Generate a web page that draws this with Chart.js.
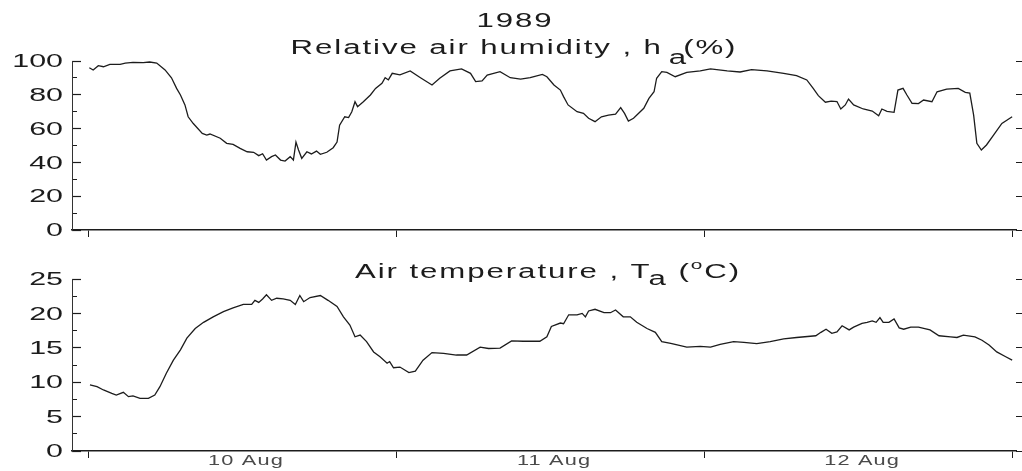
<!DOCTYPE html>
<html>
<head>
<meta charset="utf-8">
<title>1989 humidity and air temperature</title>
<script src="https://cdn.jsdelivr.net/npm/chart.js@4.4.0/dist/chart.umd.min.js"></script>
<style>
  html, body { margin: 0; padding: 0; background: #fff; }
  #wrap { position: relative; width: 1022px; height: 471px; }
  .panel { position: absolute; left: 0; width: 1022px; }
  #humPanel { top: 0; height: 240px; }
  #tempPanel { top: 240px; height: 231px; }
</style>
</head>
<body>
<div id="wrap">
  <div class="panel" id="humPanel"><canvas id="humChart"></canvas></div>
  <div class="panel" id="tempPanel"><canvas id="tempChart"></canvas></div>
</div>
<script>
// ------------------------------------------------------------
// Data — time in hours from 10 Aug 00:00
// ------------------------------------------------------------
const humHours = [
  0.1, 0.4, 0.8, 1.2, 1.7, 2.5, 2.9, 3.5, 4.3, 4.8, 5.35, 6.0, 6.5, 6.9, 7.2, 7.55, 7.8, 8.2, 8.9, 9.25,
  9.5, 10.3, 10.8, 11.3, 11.85, 12.4, 12.9, 13.3, 13.6, 13.9, 14.3, 14.6, 15.0, 15.35, 15.75, 16.0, 16.2, 16.4, 16.65, 17.05,
  17.4, 17.8, 18.1, 18.6, 19.1, 19.4, 19.6, 20.0, 20.3, 20.55, 20.8, 21.0, 21.45, 22.0, 22.4, 22.9, 23.15, 23.4, 23.7, 24.3,
  25.1, 25.9, 26.8, 27.4, 28.2, 29.1, 29.8, 30.2, 30.7, 31.1, 32.1, 32.9, 33.7, 34.45, 35.4, 35.75, 36.3, 36.8, 37.05, 37.4,
  38.1, 38.6, 39.0, 39.5, 40.0, 40.55, 41.1, 41.5, 41.8, 42.1, 42.5, 43.3, 43.7, 44.1, 44.3, 44.7, 45.1, 45.75, 46.65, 47.7,
  48.5, 49.8, 50.8, 51.7, 52.9, 54.2, 55.2, 56.0, 56.5, 56.9, 57.45, 57.9, 58.35, 58.65, 59.0, 59.25, 59.65, 60.4, 61.1, 61.6,
  61.85, 62.25, 62.8, 63.1, 63.5, 63.8, 64.2, 64.7, 65.1, 65.75, 66.15, 66.9, 67.8, 68.35, 68.7, 69.0, 69.25, 69.6, 70.0, 70.55,
  71.2, 72.0
];
const humValues = [
  96.0, 94.7, 97.2, 96.6, 98.0, 98.0, 98.8, 99.2, 99.0, 99.4, 98.8, 94.7, 90.1, 83.8, 79.9, 74.0, 67.0, 63.0, 57.2, 56.2,
  56.8, 54.3, 51.3, 50.7, 48.3, 46.3, 46.0, 44.0, 45.1, 41.4, 43.4, 44.4, 41.4, 40.8, 43.4, 41.4, 52.0, 47.3, 42.4, 46.3,
  45.0, 46.7, 44.8, 46.0, 48.7, 52.0, 62.0, 67.0, 66.5, 70.0, 75.9, 73.0, 75.9, 79.9, 83.8, 86.8, 90.1, 88.8, 92.7, 91.8,
  94.1, 90.1, 85.8, 89.8, 94.1, 95.3, 92.7, 87.8, 88.2, 91.7, 93.7, 90.1, 89.3, 90.1, 92.1, 90.7, 85.8, 82.8, 78.9, 74.0,
  70.0, 69.0, 66.1, 64.1, 67.0, 68.0, 68.5, 72.4, 69.0, 64.5, 66.1, 72.0, 77.9, 81.8, 89.8, 93.7, 93.3, 90.7, 93.3, 94.1,
  95.3, 94.1, 93.5, 94.9, 94.1, 92.7, 91.3, 88.8, 83.8, 79.5, 75.6, 76.3, 76.0, 71.6, 74.0, 77.5, 74.0, 71.6, 70.4, 67.6,
  71.6, 70.2, 69.6, 82.8, 83.8, 79.9, 75.0, 74.8, 76.9, 75.9, 81.8, 83.4, 83.8, 81.5, 81.0, 68.0, 51.3, 47.3, 50.3, 56.2,
  63.1, 67.0
];

const tempHours = [
  0.15, 0.7, 1.2, 1.85, 2.2, 2.75, 3.15, 3.5, 4.05, 4.7, 5.2, 5.6, 6.1, 6.65, 7.2, 7.7, 8.35, 9.0, 9.75, 10.55,
  11.3, 12.1, 12.75, 13.0, 13.3, 13.6, 13.9, 14.3, 14.7, 15.2, 15.75, 16.15, 16.5, 16.8, 17.3, 18.1, 18.7, 19.4, 19.9, 20.4,
  20.8, 21.2, 21.7, 22.25, 22.75, 23.3, 23.5, 23.8, 24.3, 25.0, 25.5, 26.1, 26.8, 27.7, 28.7, 29.5, 30.55, 31.2, 32.1, 33.0,
  33.9, 35.2, 35.75, 36.1, 36.8, 37.05, 37.45, 38.1, 38.5, 38.75, 39.0, 39.5, 40.2, 40.7, 41.1, 41.7, 42.25, 42.75, 43.55, 44.2,
  44.7, 45.4, 46.65, 47.7, 48.5, 49.25, 50.3, 51.1, 52.1, 53.15, 54.2, 55.2, 56.7, 57.1, 57.5, 57.95, 58.35, 58.75, 59.3, 59.65,
  60.3, 60.7, 61.1, 61.4, 61.7, 61.95, 62.4, 62.8, 63.2, 63.55, 64.1, 64.7, 65.6, 66.3, 67.2, 67.7, 68.2, 69.1, 69.65, 70.2,
  70.8, 71.5, 72.0
];
const tempValues = [
  9.6, 9.35, 8.87, 8.38, 8.14, 8.53, 7.9, 8.0, 7.66, 7.66, 8.14, 9.35, 11.3, 13.2, 14.7, 16.4, 17.8, 18.7, 19.5, 20.25,
  20.8, 21.3, 21.3, 21.9, 21.6, 22.1, 22.7, 21.9, 22.2, 22.1, 21.9, 21.3, 22.6, 21.7, 22.3, 22.6, 21.9, 21.0, 19.5, 18.3,
  16.6, 16.85, 15.9, 14.4, 13.7, 12.75, 13.0, 12.1, 12.2, 11.4, 11.6, 13.2, 14.3, 14.2, 13.95, 13.95, 15.1, 14.9, 14.95, 16.0,
  15.95, 15.95, 16.6, 18.1, 18.6, 18.5, 19.8, 19.8, 20.0, 19.5, 20.35, 20.6, 20.1, 20.1, 20.5, 19.5, 19.5, 18.7, 17.8, 17.25,
  15.9, 15.65, 15.1, 15.2, 15.1, 15.5, 15.9, 15.8, 15.6, 15.9, 16.3, 16.5, 16.75, 17.25, 17.7, 17.1, 17.3, 18.2, 17.6, 18.0,
  18.55, 18.7, 18.9, 18.7, 19.4, 18.7, 18.7, 19.2, 17.9, 17.7, 18.0, 18.0, 17.6, 16.75, 16.6, 16.5, 16.85, 16.6, 16.1, 15.4,
  14.4, 13.7, 13.2
];

// midnights carry a tick mark, noons carry the day label
const dayTicks = [0, 12, 24, 36, 48, 60, 72];
const dayLabels = ['', '10 Aug', '', '11 Aug', '', '12 Aug', ''];

const humMajor = [0, 20, 40, 60, 80, 100];
const humMinor = [0, 10, 20, 30, 40, 50, 60, 70, 80, 90, 100];
const tempMajor = [0, 5, 10, 15, 20, 25];
const tempMinor = [0, 2.5, 5, 7.5, 10, 12.5, 15, 17.5, 20, 22.5, 25];

// ------------------------------------------------------------
// Look
// ------------------------------------------------------------
const INK = '#1c1c1c';
const FONT = '"Liberation Sans", Arial, sans-serif';
const STRETCH = 1.6;       // the plotter font is much wider than Arial
const X_MIN = -1.25;
const X_MAX = 72.3;

// draws horizontally widened text, returns its drawn width
function wideText(ctx, text, x, y, o) {
  const sx = o.stretch || STRETCH;
  ctx.save();
  ctx.font = `${o.size}px ${FONT}`;
  ctx.letterSpacing = (o.spacing || 0) + 'px';
  ctx.textAlign = o.align || 'left';
  ctx.textBaseline = o.baseline || 'alphabetic';
  ctx.fillStyle = o.color || INK;
  ctx.translate(x, y);
  ctx.scale(sx, 1);
  ctx.fillText(text, 0, 0);
  const w = ctx.measureText(text).width * sx;
  ctx.restore();
  return w;
}

function measureWide(ctx, text, o) {
  ctx.save();
  ctx.font = `${o.size}px ${FONT}`;
  ctx.letterSpacing = (o.spacing || 0) + 'px';
  const w = ctx.measureText(text).width * (o.stretch || STRETCH);
  ctx.restore();
  return w;
}

// tick labels, day labels and the panel titles
const plotText = {
  id: 'plotText',
  afterDraw(chart, args, opts) {
    const ctx = chart.ctx;
    const y = chart.scales.y;
    y.ticks.forEach((t, i) => {
      wideText(ctx, String(t.value), opts.yLabelX, y.getPixelForTick(i) + 1, { size: 19, align: 'right', baseline: 'middle' });
    });

    if (opts.showDays) {
      const x = chart.scales.x;
      x.ticks.forEach((t, i) => {
        if (!dayLabels[i]) return;
        wideText(ctx, dayLabels[i], x.getPixelForTick(i) + 4, opts.dayY, {
          size: 15, stretch: 1.45, spacing: 0.8, align: 'center', baseline: 'middle', color: '#4a4a4a',
        });
      });
    }

    for (const line of opts.lines) {
      const parts = line.parts.map(p => {
        const o = { size: p.size || 19.5, spacing: 1.2 };
        return { ...p, o, w: measureWide(ctx, p.text, o) };
      });
      const total = parts.reduce((sum, p) => sum + (p.pad || 0) + p.w, 0);
      let cx = line.cx - total / 2;
      for (const p of parts) {
        cx += p.pad || 0;
        wideText(ctx, p.text, cx, line.y + (p.dy || 0), p.o);
        cx += p.w;
      }
    }
  },
};

function buildScales(major, minor, showDays, xHeight) {
  const lo = major[0];
  const hi = major[major.length - 1];
  const setTicks = list => s => { s.ticks = list.map(v => ({ value: v })); };
  return {
    x: {
      type: 'linear', min: X_MIN, max: X_MAX,
      afterBuildTicks: setTicks(dayTicks),
      afterFit: s => { s.height = xHeight; },
      border: { color: INK, width: 1.5 },
      grid: {
        drawOnChartArea: false, tickLength: 7, tickWidth: 1,
        tickColor: c => (c.tick && c.tick.value % 24 === 0 ? INK : 'rgba(0,0,0,0)'),
      },
      ticks: { display: false },
    },
    y: {
      position: 'left', weight: 1, min: lo, max: hi,
      afterBuildTicks: setTicks(major),
      afterFit: s => { s.width = 72; },
      border: { color: '#333', width: 1 },
      grid: { drawOnChartArea: false, tickLength: -9, tickColor: INK, tickWidth: 1.2 },
      ticks: { display: false },
    },
    yMinor: {
      position: 'left', weight: 0, min: lo, max: hi,
      afterBuildTicks: setTicks(minor),
      afterFit: s => { s.width = 0; },
      border: { display: false },
      grid: { drawOnChartArea: false, tickLength: -5, tickColor: INK, tickWidth: 1 },
      ticks: { display: false },
    },
    yRight: {
      position: 'right', min: lo, max: hi,
      afterBuildTicks: setTicks(major),
      afterFit: s => { s.width = 6; },
      border: { display: false },
      grid: { drawOnChartArea: false, tickLength: 6, tickColor: INK, tickWidth: 1 },
      ticks: { display: false },
    },
  };
}

function makeChart(canvasId, hours, values, major, minor, opts) {
  return new Chart(document.getElementById(canvasId), {
    type: 'line',
    data: {
      labels: hours,
      datasets: [{
        data: values,
        xAxisID: 'x',
        yAxisID: 'y',
        borderColor: INK,
        borderWidth: 1.3,
        pointRadius: 0,
        tension: 0,
        fill: false,
      }],
    },
    options: {
      responsive: true,
      maintainAspectRatio: false,
      animation: false,
      devicePixelRatio: 1,
      layout: { padding: { top: opts.top, left: 0, right: 0, bottom: 0 } },
      scales: buildScales(major, minor, opts.showDays, opts.xHeight),
      plugins: {
        legend: { display: false },
        tooltip: { enabled: false },
        plotText: {
          yLabelX: 63,
          showDays: opts.showDays,
          dayY: opts.dayY,
          lines: opts.lines,
        },
      },
    },
    plugins: [plotText],
  });
}

makeChart('humChart', humHours, humValues, humMajor, humMinor, {
  top: 61, xHeight: 10, showDays: false,
  lines: [
    { cx: 515, y: 27, parts: [{ text: '1989' }] },
    { cx: 514, y: 54, parts: [
      { text: 'Relative air humidity , h' },
      { text: 'a', dy: 10, pad: 6 },
      { text: '(%)', pad: -5 },
    ] },
  ],
});

makeChart('tempChart', tempHours, tempValues, tempMajor, tempMinor, {
  top: 39, xHeight: 20, showDays: true, dayY: 221,
  lines: [
    { cx: 548, y: 38, parts: [
      { text: 'Air temperature , T' },
      { text: 'a', dy: 7, pad: -3 },
      { text: ' (', pad: 0 },
      { text: 'o', size: 13, dy: -9 },
      { text: 'C)' },
    ] },
  ],
});
</script>
</body>
</html>
